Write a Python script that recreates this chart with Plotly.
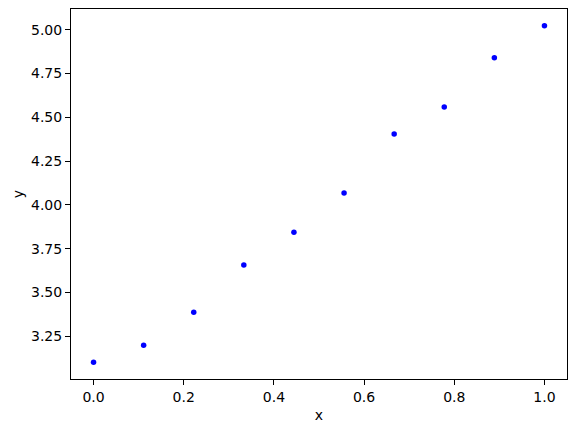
import plotly.graph_objects as go

x = [0.0, 0.1111, 0.2222, 0.3333, 0.4444, 0.5556, 0.6667, 0.7778, 0.8889, 1.0]
y = [3.101, 3.198, 3.387, 3.657, 3.844, 4.067, 4.405, 4.559, 4.840, 5.023]

x_ticks = [0.0, 0.2, 0.4, 0.6, 0.8, 1.0]
x_labels = ["0.0", "0.2", "0.4", "0.6", "0.8", "1.0"]
y_ticks = [3.25, 3.5, 3.75, 4.0, 4.25, 4.5, 4.75, 5.0]
y_labels = ["3.25", "3.50", "3.75", "4.00", "4.25", "4.50", "4.75", "5.00"]

fig = go.Figure()
fig.add_trace(go.Scatter(x=x, y=y, mode="markers",
                         marker=dict(color="blue", size=5.5)))

axis_style = dict(showgrid=False, zeroline=False, showline=True,
                  linecolor="black", linewidth=1, mirror=True,
                  ticks="outside", ticklen=5, tickwidth=1, tickcolor="black",
                  tickfont=dict(size=14, color="black"), automargin=False)

fig.update_xaxes(range=[-0.05, 1.05], tickvals=x_ticks, ticktext=x_labels,
                 title=dict(text="x", font=dict(size=14, color="black"), standoff=6),
                 **axis_style)
fig.update_yaxes(range=[3.005, 5.119], tickvals=y_ticks, ticktext=y_labels,
                 title=dict(text="y", font=dict(size=14, color="black"), standoff=4),
                 **axis_style)

fig.update_layout(width=576, height=432,
                  margin=dict(l=71, r=9, t=9, b=53),
                  plot_bgcolor="white", paper_bgcolor="white",
                  font=dict(family="DejaVu Sans"),
                  showlegend=False)

# drop the browser's default page margin so the figure sits at the corner
fig.write_html("out.html", config={"displayModeBar": False},
               post_script="document.body.style.margin='0';")
